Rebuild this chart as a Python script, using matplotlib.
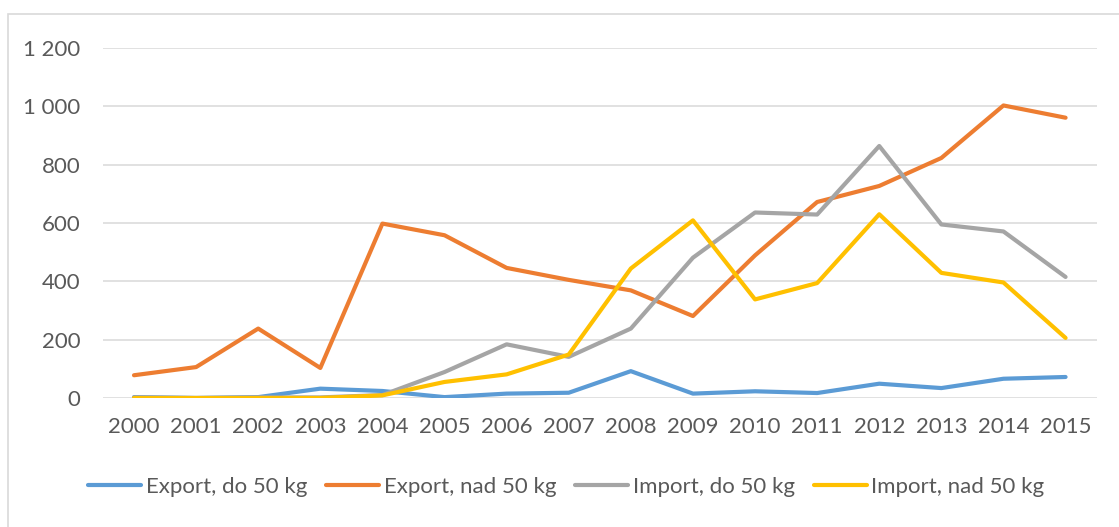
"""Export / import line chart, 2000-2015."""
import matplotlib

matplotlib.use("Agg")
import matplotlib.pyplot as plt
from matplotlib.patches import Rectangle
from matplotlib.ticker import FuncFormatter

years = [str(y) for y in range(2000, 2016)]
export_do50 = [3, 0, 3, 32, 24, 3, 15, 18, 92, 15, 23, 17, 49, 34, 66, 72]
export_nad50 = [78, 106, 238, 103, 598, 558, 446, 405, 369, 281, 489, 672, 727, 823, 1003, 961]
import_do50 = [2, 0, 2, 2, 10, 89, 184, 141, 238, 481, 636, 629, 864, 595, 571, 415]
import_nad50 = [0, 0, 0, 0, 9, 55, 81, 149, 444, 609, 338, 394, 630, 429, 396, 206]

series = [
    ("Export, do 50 kg", export_do50, "#5b9bd5"),
    ("Export, nad 50 kg", export_nad50, "#ed7d31"),
    ("Import, do 50 kg", import_do50, "#a5a5a5"),
    ("Import, nad 50 kg", import_nad50, "#ffc000"),
]

plt.rcParams["font.family"] = ["Lato", "DejaVu Sans"]
TXT = "#595959"
FS = 16

fig = plt.figure(figsize=(11.19, 5.27), dpi=100)
ax = fig.add_axes([0.092, 0.2448, 0.888, 0.6641])

# chart frame (only left and top edges fall inside the picture)
fig.patches.append(Rectangle((8 / 1119, -0.1), 1.2, 1 - 14 / 527 + 0.1,
                             transform=fig.transFigure, fill=False,
                             edgecolor="#d9d9d9", lw=1.2))

x = range(len(years))
for label, vals, color in series:
    ax.plot(x, vals, color=color, lw=3.0, label=label,
            solid_capstyle="round", solid_joinstyle="round")

ax.set_xlim(-0.5, len(years) - 0.5)
ax.set_ylim(0, 1200)
ax.set_yticks(range(0, 1201, 200))
ax.yaxis.set_major_formatter(FuncFormatter(lambda v, p: f"{int(v):,}".replace(",", " ")))
ax.set_xticks(list(x))
ax.set_xticklabels(years)
ax.grid(axis="y", color="#d9d9d9", lw=1.1)
ax.set_axisbelow(True)
for s in ax.spines.values():
    s.set_visible(False)
ax.tick_params(length=0, labelsize=FS, labelcolor=TXT)
ax.tick_params(axis="y", pad=16)
ax.tick_params(axis="x", pad=14)

leg = fig.legend(loc="center", bbox_to_anchor=(0.506, 1 - 487 / 527), ncol=4,
                 frameon=False, fontsize=FS, handlelength=2.4, handletextpad=0.2,
                 columnspacing=0.85)
for t in leg.get_texts():
    t.set_color(TXT)

fig.savefig("out.png", dpi=100)
